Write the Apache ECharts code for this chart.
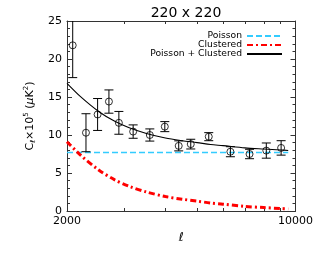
<!DOCTYPE html>
<html>
<head>
<meta charset="utf-8">
<script src="https://cdn.jsdelivr.net/npm/echarts@6/dist/echarts.min.js"></script>
<style>html,body{margin:0;padding:0;background:#fff}#c{width:316px;height:253px}</style>
</head>
<body>
<div id="c"></div>
<script>
// Measured band powers
const ells = [2082, 2286, 2481, 2687, 2882, 3187, 3584, 3983, 4393, 4782, 5428, 6322, 7234, 8141, 9036];
const values = [21.8, 10.3, 12.7, 14.4, 11.6, 10.45, 10.0, 11.1, 8.57, 8.8, 9.78, 7.8, 7.5, 7.95, 8.3];
const errors = [4.25, 2.5, 2.1, 1.53, 1.5, 0.88, 0.8, 0.66, 0.66, 0.64, 0.53, 0.66, 0.62, 1.0, 0.95];
// Model curves
const modelElls = [2000, 2200, 2500, 2800, 3100, 3500, 4000, 4500, 5000, 5500, 6000, 7000, 8000, 9000, 9500];
const clustered = [9.12, 7.35, 5.4, 4.1, 3.25, 2.5, 1.9, 1.55, 1.3, 1.05, 0.9, 0.6, 0.45, 0.33, 0.27];
const total = [16.8, 15.05, 13.1, 11.8, 10.95, 10.2, 9.6, 9.25, 9.0, 8.75, 8.6, 8.3, 8.15, 8.03, 7.97];
const poissonElls = [2000, 9500];
const poisson = [7.7, 7.7];
// Axis ticks
const xLabelValues = [2000, 10000];
const xTickValues = [3000, 4000, 5000, 6000, 7000, 8000, 9000];
const titleText = '220 x 220';
const legendNames = ['Poisson', 'Clustered', 'Poisson + Clustered'];

const FONT = 'DejaVu Sans';
const chart = echarts.init(document.getElementById('c'), null, {renderer: 'canvas'});

const pts = ells.map((l, i) => [l, values[i], errors[i]]);
const zip = (a, b) => a.map((v, i) => [v, b[i]]);

const xCommon = {
  type: 'log', logBase: 10, min: 2000, max: 10000,
  axisLine: {show: true, onZero: false, lineStyle: {color: '#333', width: 1}},
  axisTick: {show: true, inside: true, length: 3, customValues: xTickValues, lineStyle: {color: '#333'}},
  splitLine: {show: false}, minorTick: {show: false}, minorSplitLine: {show: false}
};
const yCommon = {
  type: 'value', min: 0, max: 25, interval: 5,
  axisLine: {show: true, onZero: false, lineStyle: {color: '#333', width: 1}},
  axisTick: {show: true, inside: true, length: 5, lineStyle: {color: '#333'}},
  minorTick: {show: true, splitNumber: 5, length: 3, lineStyle: {color: '#333'}},
  splitLine: {show: false}
};

const legendTops = [31.5, 40.5, 49.5];
const legends = legendNames.map((n, i) => ({
  data: [n], right: 33, top: legendTops[i], orient: 'vertical', align: 'right',
  itemWidth: 35, itemHeight: 8, itemGap: 0, padding: 0, selectedMode: false,
  itemStyle: {color: 'rgba(0,0,0,0)', borderWidth: 0, opacity: 0},
  textStyle: {fontFamily: FONT, fontSize: 9.2, color: '#000'}
}));

chart.setOption({
  animation: false,
  backgroundColor: '#fff',
  title: {text: titleText, left: 181, textAlign: 'center', top: 1,
    textStyle: {fontFamily: FONT, fontSize: 14, fontWeight: 'normal', color: '#000'}},
  legend: legends,
  grid: {left: 67, right: 20, top: 21, bottom: 42},
  xAxis: [
    Object.assign({}, xCommon, {position: 'bottom',
      axisLabel: {show: true, customValues: xLabelValues, margin: 5,
        fontFamily: FONT, fontSize: 11, color: '#000', formatter: v => String(Math.round(v))},
      name: 'ℓ', nameLocation: 'middle', nameGap: 21,
      nameTextStyle: {fontFamily: FONT, fontSize: 12, fontStyle: 'italic', color: '#000'}}),
    Object.assign({}, xCommon, {position: 'top', axisLabel: {show: false}})
  ],
  yAxis: [
    Object.assign({}, yCommon, {position: 'left',
      axisLabel: {show: true, margin: 5, fontFamily: FONT, fontSize: 11, color: '#000'},
      name: '{c|C}{sub|ℓ}{c|×10}{sup|5}{c| (}{mu|μ}{c|K}{sup|2}{c|)}',
      nameLocation: 'middle', nameRotate: 90, nameGap: 28,
      nameTextStyle: {
        rich: {
          c: {fontFamily: FONT, fontSize: 11, color: '#000', lineHeight: 14},
          mu: {fontFamily: FONT, fontSize: 11, fontStyle: 'italic', color: '#000', lineHeight: 14},
          sub: {fontFamily: FONT, fontSize: 7, color: '#000', verticalAlign: 'bottom', lineHeight: 14},
          sup: {fontFamily: FONT, fontSize: 7, color: '#000', verticalAlign: 'top', lineHeight: 14}
        }
      }}),
    Object.assign({}, yCommon, {position: 'right', axisLabel: {show: false}})
  ],
  series: [
    {name: 'Poisson', type: 'line', data: zip(poissonElls, poisson), symbol: 'none',
      lineStyle: {color: '#33ccff', width: 1.5, type: [6, 3]}, itemStyle: {color: '#33ccff'}, z: 2},
    {name: 'Clustered', type: 'line', data: zip(modelElls, clustered), symbol: 'none', smooth: 0.3,
      lineStyle: {color: '#ff0000', width: 3, type: [6, 3, 2, 3]}, itemStyle: {color: '#ff0000'}, z: 2},
    {name: 'Poisson + Clustered', type: 'line', data: zip(modelElls, total), symbol: 'none', smooth: 0.3,
      lineStyle: {color: '#000', width: 1.1}, itemStyle: {color: '#000'}, z: 3},
    {name: 'errbars', type: 'custom', clip: true, data: pts, z: 4,
      renderItem: function (params, api) {
        const x = api.value(0), y = api.value(1), e = api.value(2);
        const lo = api.coord([x, y - e]);
        const hi = api.coord([x, y + e]);
        const hw = 4.5;
        const st = {stroke: '#000', lineWidth: 1};
        return {type: 'group', children: [
          {type: 'line', shape: {x1: lo[0], y1: lo[1], x2: hi[0], y2: hi[1]}, style: st},
          {type: 'line', shape: {x1: hi[0] - hw, y1: hi[1], x2: hi[0] + hw, y2: hi[1]}, style: st},
          {type: 'line', shape: {x1: lo[0] - hw, y1: lo[1], x2: lo[0] + hw, y2: lo[1]}, style: st}
        ]};
      }},
    {name: 'points', type: 'scatter', data: pts.map(p => [p[0], p[1]]), symbol: 'circle', symbolSize: 7,
      itemStyle: {color: 'rgba(0,0,0,0)', borderColor: '#000', borderWidth: 1}, z: 5}
  ]
});
</script>
</body>
</html>
